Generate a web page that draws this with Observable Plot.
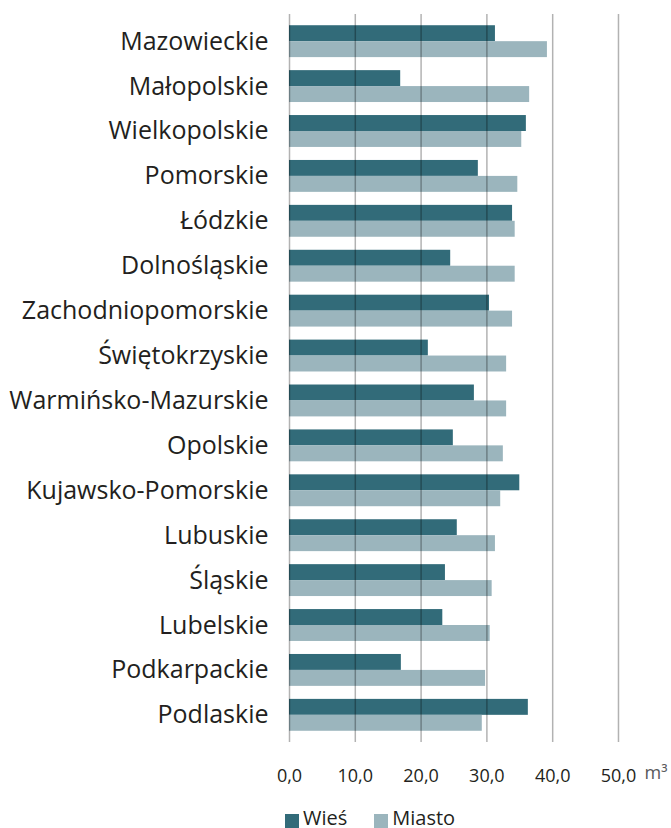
<!DOCTYPE html>
<html>
<head>
<meta charset="utf-8">
<script src="https://cdn.jsdelivr.net/npm/d3@7"></script>
<script src="https://cdn.jsdelivr.net/npm/@observablehq/plot@0.6"></script>
<style>
  body { margin: 0; background: #fff; font-family: "Open Sans", sans-serif; }
  #legend { height: 28px; display: flex; padding-left: 285px; color: #231f20; font-size: 20px; line-height: 20px; overflow: visible; }
  .item { display: flex; margin-top: 8px; margin-right: 27px; }
  .sw { width: 14px; height: 14px; margin-top: 6px; margin-right: 4px; }
</style>
</head>
<body>
<div id="chart"></div>
<div id="legend"></div>
<script>
const regions = ["Mazowieckie","Małopolskie","Wielkopolskie","Pomorskie","Łódzkie","Dolnośląskie","Zachodniopomorskie","Świętokrzyskie","Warmińsko-Mazurskie","Opolskie","Kujawsko-Pomorskie","Lubuskie","Śląskie","Lubelskie","Podkarpackie","Podlaskie"];
const wies   = [31.3, 16.9, 36.0, 28.7, 33.9, 24.5, 30.4, 21.1, 28.1, 24.9, 35.0, 25.5, 23.7, 23.3, 17.0, 36.3];
const miasto = [39.2, 36.5, 35.3, 34.7, 34.3, 34.3, 33.9, 33.0, 33.0, 32.5, 32.1, 31.3, 30.8, 30.5, 29.8, 29.3];
const series = ["Wieś", "Miasto"];
const colors = ["#326b79", "#9bb5bd"];
const ticks = [0, 10, 20, 30, 40, 50];
const unit = "m³";

const data = regions.flatMap((r, i) => [
  {region: r, series: series[0], value: wies[i]},
  {region: r, series: series[1], value: miasto[i]}
]);

const W = 671, H = 800, mTop = 14, mBottom = 58, mLeft = 289, mRight = 4;
const pIn = 0.29, pOut = 0.25;
const half = d3.scaleBand().domain(regions).range([mTop, H - mBottom]).paddingInner(pIn).paddingOuter(pOut).bandwidth() / 2;
const fmt = d => d.toFixed(1).replace(".", ",");

const chart = Plot.plot({
  width: W, height: H,
  marginTop: mTop, marginBottom: mBottom, marginLeft: mLeft, marginRight: mRight,
  style: {fontFamily: "'Open Sans', sans-serif", color: "#231f20", background: "#fff"},
  x: {domain: [0, 57.45], axis: null},
  y: {type: "band", domain: regions, paddingInner: pIn, paddingOuter: pOut, round: false, axis: null},
  color: {domain: series, range: colors},
  marks: [
    Plot.barX(data.filter(d => d.series === series[0]), {x: "value", y: "region", fill: "series", insetBottom: half}),
    Plot.barX(data.filter(d => d.series === series[1]), {x: "value", y: "region", fill: "series", insetTop: half}),
    Plot.gridX(ticks, {stroke: "#000", strokeOpacity: 0.3, strokeWidth: 1.5}),
    Plot.axisY({tickSize: 0, tickPadding: 21, fontSize: 25, fill: "#231f20", label: null}),
    Plot.axisX(ticks, {tickSize: 0, tickPadding: 27, fontSize: 18, fill: "#231f20", tickFormat: fmt, label: null}),
    Plot.text([unit], {frameAnchor: "bottom-right", text: d => d, textAnchor: "end", dy: 36, fontSize: 18, fill: "#58595b"})
  ]
});
document.getElementById("chart").appendChild(chart);

const legend = document.getElementById("legend");
series.forEach((s, i) => {
  const it = document.createElement("div");
  it.className = "item";
  const sw = document.createElement("div");
  sw.className = "sw";
  sw.style.background = colors[i];
  const t = document.createElement("span");
  t.textContent = s;
  it.appendChild(sw); it.appendChild(t);
  legend.appendChild(it);
});
</script>
</body>
</html>
